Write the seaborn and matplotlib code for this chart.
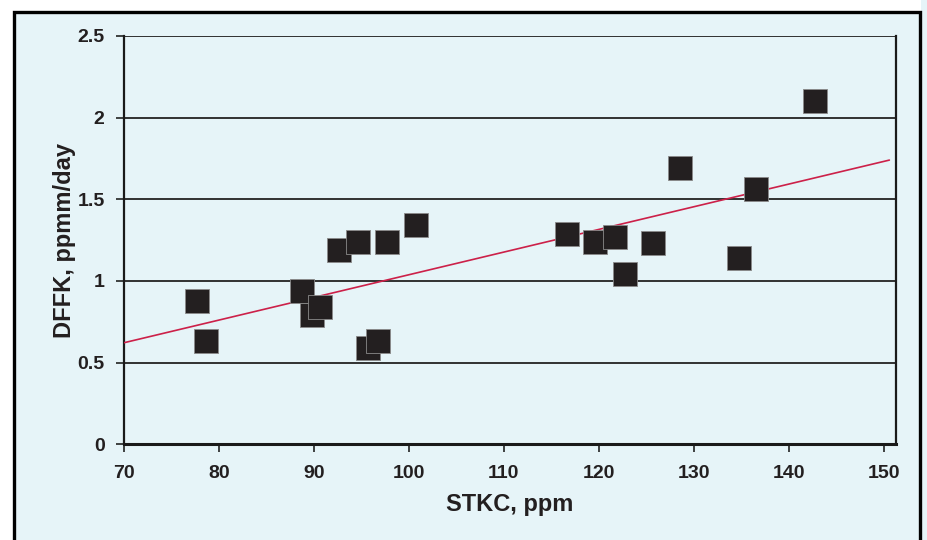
import numpy as np
import pandas as pd
import matplotlib
matplotlib.use("Agg")
import matplotlib.pyplot as plt
import seaborn as sns
from matplotlib.patches import Rectangle

# -----------------------------
# Data
# -----------------------------
stkc = [77.7, 78.6, 88.7, 89.8, 90.6, 92.6, 94.6, 95.7, 96.7, 97.7, 100.7,
        116.7, 119.6, 121.7, 122.8, 125.7, 128.6, 134.8, 136.6, 142.8]
dffk = [0.88, 0.63, 0.94, 0.79, 0.84, 1.19, 1.24, 0.59, 0.63, 1.24, 1.34,
        1.29, 1.24, 1.27, 1.04, 1.23, 1.69, 1.14, 1.56, 2.10]
x_ticks = [70, 80, 90, 100, 110, 120, 130, 140, 150]
y_ticks = [0, 0.5, 1, 1.5, 2, 2.5]
y_tick_labels = ["0", "0.5", "1", "1.5", "2", "2.5"]

df = pd.DataFrame({"STKC": stkc, "DFFK": dffk})

bg = "#e6f4f8"

sns.set_style("white")
plt.rcParams["font.family"] = ["Liberation Sans", "DejaVu Sans"]
plt.rcParams["font.weight"] = "bold"

fig = plt.figure(figsize=(9.28, 5.4), dpi=100, facecolor="white")

# light blue panel with black frame (bottom edge runs off the picture)
fig.patches.append(Rectangle((921 / 928, -0.1), 0.1, 1.2, transform=fig.transFigure,
                             facecolor=bg, edgecolor="none", zorder=-2))
fig.patches.append(Rectangle((14 / 928, -0.1), 906 / 928, 1.1 - 12 / 540,
                             transform=fig.transFigure, facecolor=bg,
                             edgecolor="black", linewidth=2.4, zorder=-1))

ax = fig.add_axes([124 / 928, 1 - 444.3 / 540, 772 / 928, 408.5 / 540])
ax.set_facecolor(bg)

# trend line over 70..150
ax.set_xlim(70, 150.6)
sns.regplot(x="STKC", y="DFFK", data=df, ax=ax, scatter=False, ci=None,
            truncate=False, line_kws={"color": "#cc2049", "linewidth": 1.2, "zorder": 3})

sns.scatterplot(x="STKC", y="DFFK", data=df, ax=ax, marker="s", s=300,
                color="#231f20", edgecolor="#8a8a8a", linewidth=0.6, zorder=4)

ax.set_xlim(70, 151.3)
ax.set_ylim(0, 2.5)
ax.set_xticks(x_ticks)
ax.set_yticks(y_ticks)
ax.set_yticklabels(y_tick_labels)

for yv in y_ticks[1:]:
    ax.axhline(yv, color="#222222", linewidth=1.3, zorder=1)

ax.tick_params(axis="both", direction="out", length=6, width=1.2, color="#222222",
               labelsize=14, labelcolor="#231f20", left=True, bottom=True)
ax.tick_params(axis="x", pad=9)
ax.tick_params(axis="y", pad=8)
for lab in ax.get_xticklabels() + ax.get_yticklabels():
    lab.set_fontweight("bold")

for side in ["left", "right", "bottom"]:
    ax.spines[side].set_visible(True)
    ax.spines[side].set_color("#1a1a1a")
ax.spines["left"].set_linewidth(1.6)
ax.spines["right"].set_linewidth(1.6)
ax.spines["bottom"].set_linewidth(2.2)
ax.spines["top"].set_visible(False)

ax.set_xlabel("STKC, ppm", fontsize=17, fontweight="bold", color="#231f20", labelpad=8)
ax.set_ylabel("DFFK, ppmm/day", fontsize=17, fontweight="bold", color="#231f20", labelpad=1)

fig.savefig("out.png", dpi=100, facecolor=fig.get_facecolor())
